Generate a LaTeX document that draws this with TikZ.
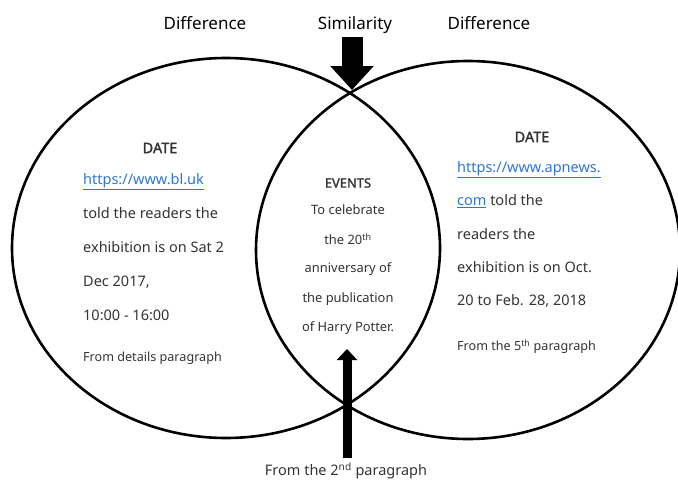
\documentclass[tikz,border=0pt]{standalone}
\usepackage{fontspec}
\setmainfont{Noto Sans}[AutoFakeBold=1.6]
\usetikzlibrary{arrows.meta}
\definecolor{body}{HTML}{333333}
\definecolor{link}{HTML}{2E75D6}
\newcommand{\lnk}[1]{\textcolor{link}{\underline{#1}}}
\begin{document}
\begin{tikzpicture}[x=1pt,y=-1pt,
  ring/.style={draw=black,line width=2.6pt},
  head/.style={font=\fontsize{17}{20}\selectfont,text=black,inner sep=0pt,anchor=base},
  bodyline/.style={font=\fontsize{14.5}{17}\selectfont,text=body,inner sep=0pt,anchor=mid west},
  midline/.style={font=\fontsize{12.9}{15}\selectfont,text=body,inner sep=0pt,anchor=mid},
  srcline/.style={font=\fontsize{12.6}{15}\selectfont,text=body,inner sep=0pt},
  bigarrow/.style={line width=21pt,-{Triangle[width=42pt,length=24pt]}},
  smallarrow/.style={line width=9pt,-{Triangle[width=20pt,length=11pt]}}
]
\useasboundingbox (0,0) rectangle (678,482);
\draw[ring] (226,248) ellipse [x radius=214, y radius=190];
\draw[ring] (468,250) ellipse [x radius=212, y radius=189];
% headings
\node[head] (dl) at (205,29) {Difference};
\node[head] (sim) at (355,29) {Similarity};
\node[head] (dr) at (489,29) {Difference};
% arrows
\coordinate (topstart) at (352,37);
\coordinate (toptip) at (352,90);
\draw[bigarrow] (topstart) -- (toptip);
\coordinate (botstart) at (347,458);
\coordinate (bottip) at (347,349);
\draw[smallarrow] (botstart) -- (bottip);
% left block
\node[font=\fontsize{14.5}{17}\selectfont\bfseries,text=body,inner sep=0pt] (ldate) at (160,148) {DATE};
\node[bodyline] (l1) at (83,182) {\lnk{https://www.bl.uk}};
\node[bodyline] (l2) at (83,216) {told the readers the};
\node[bodyline] (l3) at (83,250) {exhibition is on Sat 2};
\node[bodyline] (l4) at (83,284) {Dec 2017,};
\node[bodyline] (l5) at (83,318) {10:00 - 16:00};
\node[srcline,anchor=mid west] (lsrc) at (83,359) {From details paragraph};
% middle block
\node[font=\fontsize{12.9}{15}\selectfont\bfseries,text=body,inner sep=0pt] (mev) at (348,183) {EVENTS};
\node[midline] (m1) at (348,212) {To celebrate};
\node[midline] (m2) at (348,242) {the 20\textsuperscript{th}};
\node[midline] (m3) at (348,270) {anniversary of};
\node[midline] (m4) at (348,300) {the publication};
\node[midline] (m5) at (348,329) {of Harry Potter.};
% right block
\node[font=\fontsize{14.5}{17}\selectfont\bfseries,text=body,inner sep=0pt] (rdate) at (532,137) {DATE};
\node[bodyline] (r1) at (457,170) {\lnk{https://www.apnews.}};
\node[bodyline] (r2) at (457,203) {\lnk{com} told the};
\node[bodyline] (r3) at (457,237) {readers the};
\node[bodyline] (r4) at (457,270) {exhibition is on Oct.};
\node[bodyline] (r5) at (457,303) {20 to Feb. 28, 2018};
\node[srcline,anchor=mid west] (rsrc) at (457,348) {From the 5\textsuperscript{th} paragraph};
% bottom label
\node[bodyline,anchor=mid] (bsrc) at (346,473) {From the 2\textsuperscript{nd} paragraph};
\end{tikzpicture}
\end{document}
